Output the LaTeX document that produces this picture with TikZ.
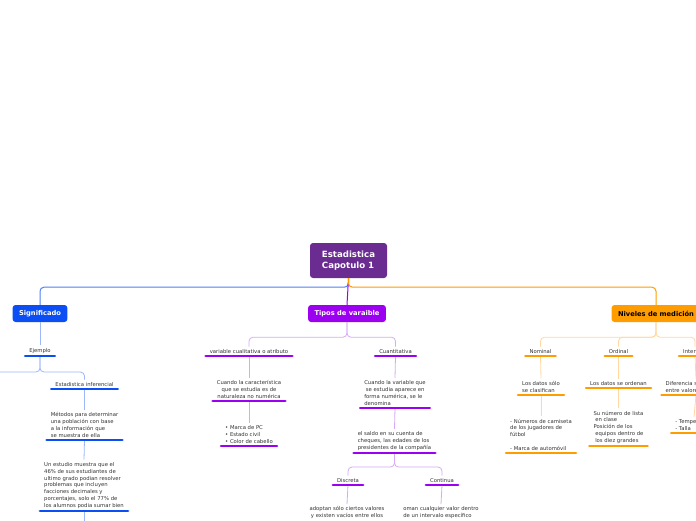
\documentclass[tikz,border=0pt]{standalone}
\usepackage{fontspec}
\setmainfont{DejaVu Sans}
\usetikzlibrary{positioning}

\definecolor{centralpurple}{HTML}{6A2C91}
\definecolor{sigblue}{HTML}{0B4EF4}
\definecolor{sigline}{HTML}{4F7FF5}
\definecolor{siglight}{HTML}{9DB8F8}
\definecolor{tipopurple}{HTML}{9C00F0}
\definecolor{tipolight}{HTML}{D9A9F6}
\definecolor{nivorange}{HTML}{FF9C00}
\definecolor{nivlight}{HTML}{FFD8A0}
\definecolor{textgray}{HTML}{333333}

\begin{document}
\begin{tikzpicture}[
    x=1pt, y=-1pt,
    central/.style = {rectangle, rounded corners=3pt, fill=centralpurple, text=white, align=left, font=\fontsize{8.6}{11}\selectfont\bfseries, minimum width=77pt, minimum height=35pt},
    topic/.style = {rectangle, rounded corners=3pt, text=white, font=\fontsize{6.7}{8}\selectfont\bfseries, minimum height=17pt, inner xsep=6.5pt},
    sub/.style = {anchor=south, inner xsep=4pt, inner ysep=2.5pt, text=textgray, font=\fontsize{5.3}{6.8}\selectfont},
    conn/.style = {line width=0.8pt, rounded corners=4pt},
    bar/.style = {line width=2.6pt, line cap=round}
]
\useasboundingbox (0,0) rectangle (696,520);
\fill[white] (0,0) rectangle (696,520);
\clip (0,0) rectangle (696,520);

% Main topics
\node[central] (central) at (348.5,260.5) {Estadistica\\Capotulo 1};
\node[topic, fill=sigblue] (signif) at (40,313.5) {Significado};
\node[topic, fill=tipopurple] (tipos) at (347,313.5) {Tipos de varaible};
\node[topic, fill=nivorange, text=black] (niveles) at (656,313.5) {Niveles de medición};

% Significado
\node[sub] (ejemplo) at (40,356) {Ejemplo};
\coordinate (edesc) at (-20,380);
\node[sub] (einf) at (84.5,389) {Estadistica inferencial};
\node[sub, align=left] (metodos) at (84.5,440) {Métodos para determinar\\una población con base\\a la información que\\se muestra de ella};
\node[sub, align=left] (estudio) at (84,511) {Un estudio muestra que el\\46\% de sus estudiantes de\\ultimo grado podian resolver\\problemas que incluyen\\facciones decimales y\\porcentajes, solo el 77\% de\\los alumnos podia sumar bien};
\coordinate (eabajo) at (84,530);

% Tipos de variable
\node[sub] (cuali) at (249,356) {variable cualitativa o atributo};
\node[sub] (cuanti) at (395.5,356) {Cuantitativa};
\node[sub, align=center] (cuando1) at (249,401) {Cuando la característica\\que se estudia es de\\naturaleza no numérica};
\node[sub, align=left] (marcas) at (249,446) {• Marca de PC\\• Estado civil\\• Color de cabello};
\node[sub, align=left] (cuando2) at (395,408) {Cuando la variable que\\~se estudia aparece en\\forma numérica, se le\\denomina};
\node[sub, align=left] (saldo) at (394.5,453) {el saldo en su cuenta de\\cheques, las edades de los\\presidentes de la compañía};
\node[sub] (discreta) at (348,485) {Discreta};
\node[sub] (continua) at (442,485) {Continua};
\node[sub, anchor=north, align=center] (adoptan) at (347,504) {adoptan sólo ciertos valores\\y existen vacíos entre ellos};
\node[sub, anchor=north, align=left] (oman) at (441,504) {oman cualquier valor dentro\\de un intervalo específico};

% Niveles de medicion
\node[sub] (nominal) at (540.5,356) {Nominal};
\node[sub] (ordinal) at (618.5,356) {Ordinal};
\node[sub] (intervalo) at (695,356) {Intervalo};
\node[sub, align=left] (clasif) at (541,395) {Los datos sólo\\se clasifican};
\node[sub] (ordenan) at (618.5,388) {Los datos se ordenan};
\node[sub, align=left] (difer) at (696,395) {Diferencia significativa\\entre valores};
\node[sub, align=left] (ejnom) at (541,453) {- Números de camiseta\\de los jugadores de\\fútbol\\[6.8pt]- Marca de automóvil};
\node[sub, align=left] (ejord) at (618.5,446) {Su número de lista\\~en clase\\Posición de los\\~equipos dentro de\\~los diez grandes};
\node[sub, align=left] (ejint) at (694,433) {- Temperatura\\- Talla};

% Connectors from the centre
\draw[conn, sigline, line width=1pt] (central.south) -- ++(0,9) -| (signif.north);
\draw[conn, tipopurple, line width=1pt] (central.south) -- (tipos.north);
\draw[conn, nivorange, line width=1pt] (central.south) -- ++(0,9) -| (niveles.north);

% Blue branch
\draw[conn, siglight] (signif.south) -- (ejemplo.north);
\draw[conn, siglight] (ejemplo.south) -- ++(0,16) -| (edesc);
\draw[conn, siglight] (ejemplo.south) -- ++(0,16) -| (einf.north);
\draw[conn, siglight] (einf.south) -- (metodos.north);
\draw[conn, siglight] (metodos.south) -- (estudio.north);
\draw[conn, siglight] (estudio.south) -- (eabajo);

% Purple branch
\draw[conn, tipolight] (tipos.south) -- ++(0,15) -| (cuali.north);
\draw[conn, tipolight] (tipos.south) -- ++(0,15) -| (cuanti.north);
\draw[conn, tipolight] (cuali.south) -- (cuando1.north);
\draw[conn, tipolight] (cuando1.south) -- (marcas.north);
\draw[conn, tipolight] (cuanti.south) -- (cuando2.north);
\draw[conn, tipolight] (cuando2.south) -- (saldo.north);
\draw[conn, tipolight] (saldo.south) -- ++(0,14) -| (discreta.north);
\draw[conn, tipolight] (saldo.south) -- ++(0,14) -| (continua.north);
\draw[conn, tipolight] (discreta.south) -- (adoptan.north);
\draw[conn, tipolight] (continua.south) -- (oman.north);

% Orange branch
\draw[conn, nivlight] (niveles.south) -- ++(0,15) -| (nominal.north);
\draw[conn, nivlight] (niveles.south) -- ++(0,15) -| (ordinal.north);
\draw[conn, nivlight] (niveles.south) -- ++(0,15) -| (intervalo.north);
\draw[conn, nivlight] (nominal.south) -- (clasif.north);
\draw[conn, nivlight] (clasif.south) -- (ejnom.north);
\draw[conn, nivlight] (ordinal.south) -- (ordenan.north);
\draw[conn, nivlight] (ordenan.south) -- (ejord.north);
\draw[conn, nivlight] (intervalo.south) -- (difer.north);
\draw[conn, nivlight] (difer.south) -- (ejint.north);

% Underline bars
\foreach \n/\c in {ejemplo/sigblue, einf/sigblue, metodos/sigblue, estudio/sigblue,
    cuali/tipopurple, cuanti/tipopurple, cuando1/tipopurple, marcas/tipopurple,
    cuando2/tipopurple, saldo/tipopurple, discreta/tipopurple, continua/tipopurple,
    nominal/nivorange, ordinal/nivorange, intervalo/nivorange, clasif/nivorange,
    ordenan/nivorange, difer/nivorange, ejnom/nivorange, ejord/nivorange, ejint/nivorange}
    \draw[bar, \c] (\n.south west) -- (\n.south east);
\end{tikzpicture}
\end{document}
